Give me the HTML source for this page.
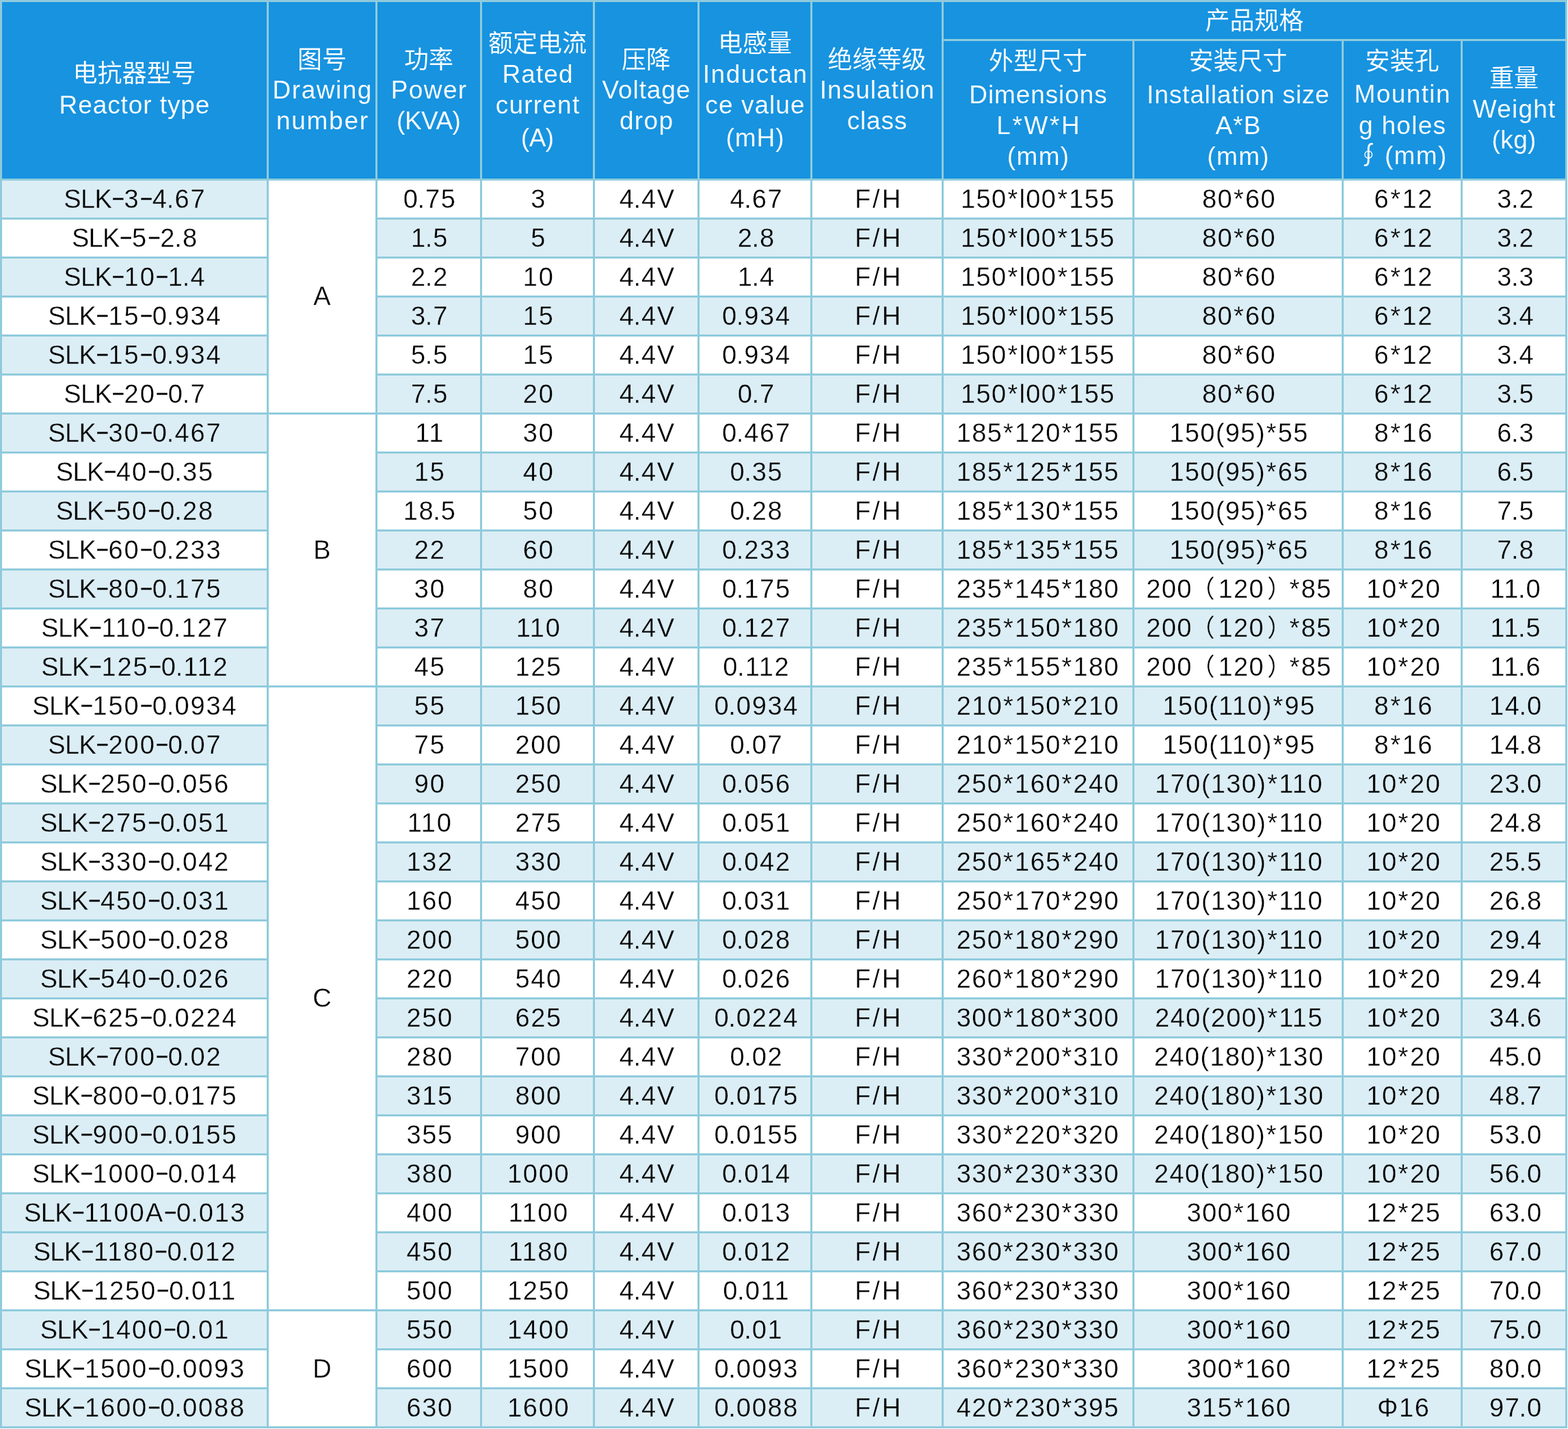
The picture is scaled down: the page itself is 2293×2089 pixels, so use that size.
<!DOCTYPE html>
<html lang="zh"><head><meta charset="utf-8"><title>SLK reactor specification table</title>
<style>
html,body{margin:0;padding:0;background:#fff;}
body{width:2293px;height:2089px;position:relative;overflow:hidden;font-family:"Liberation Sans",sans-serif;font-size:38px;}
#t{position:absolute;left:0;top:0;width:2292px;height:2088px;background:#8fcbdc;will-change:transform;}
.c{position:absolute;text-align:center;white-space:nowrap;overflow:hidden;}
.h{background:#1793e0;color:#fff;font-size:37px;-webkit-text-stroke:0.12px #1793e0;}
.h .l{position:absolute;left:0;right:0;height:45px;line-height:45px;}
.h .l span{position:relative;}
.h .k{position:absolute;left:0;right:0;height:36px;line-height:36px;font-size:36px;letter-spacing:0;font-family:"Liberation Sans","Noto Sans CJK SC",sans-serif;}
.w{background:#fff;-webkit-text-stroke:0.3px #fff;}
.b{background:#dceef5;-webkit-text-stroke:0.3px #dceef5;}
.d{color:#000;height:54px;line-height:54px;}
.d span{position:relative;top:0.3px;}
.g{background:#fff;color:#000;-webkit-text-stroke:0.3px #fff;}
.g span{position:absolute;left:0;right:0;height:54px;line-height:54px;}
.as{font-style:normal;padding:0 0.8px;}
.p{font-style:normal;margin:0 -0.76px 0 -2.1px;}
.s{font-weight:normal;letter-spacing:-0.7px;margin-right:0.4px;}
.m{font-style:normal;font-size:31px;letter-spacing:0;position:relative;top:-3px;-webkit-text-stroke:0.35px #000;}
.fw{font-style:normal;font-size:36px;letter-spacing:0;line-height:0;font-family:"Liberation Sans","Noto Sans CJK SC",sans-serif;}
.ci{font-style:normal;font-size:36px;letter-spacing:0;line-height:0;font-family:"Liberation Sans","Noto Sans CJK SC","DejaVu Sans",sans-serif;}
</style></head>
<body>
<div id="t">
<div class="c h" style="left:3px;top:3px;width:387px;height:258px"><div class="k" style="top:87.3px">电抗器型号</div><div class="l" style="top:128.2px;left:0px;letter-spacing:0.91px"><span style="left:0.46px">Reactor type</span></div></div>
<div class="c h" style="left:393px;top:3px;width:156px;height:258px"><div class="k" style="top:66.5px">图号</div><div class="l" style="top:106.2px;left:0px;letter-spacing:1.52px"><span style="left:0.76px">Drawing</span></div><div class="l" style="top:151.2px;left:0px;letter-spacing:1.72px"><span style="left:0.86px">number</span></div></div>
<div class="c h" style="left:552px;top:3px;width:150px;height:258px"><div class="k" style="top:66.5px">功率</div><div class="l" style="top:106.2px;left:0px;letter-spacing:1.37px"><span style="left:0.69px">Power</span></div><div class="l" style="top:151.2px;left:0px;letter-spacing:-0.52px"><span style="left:-0.26px">(KVA)</span></div></div>
<div class="c h" style="left:705px;top:3px;width:162px;height:258px"><div class="k" style="top:42.5px">额定电流</div><div class="l" style="top:83.1px;left:0px;letter-spacing:1.12px"><span style="left:0.56px">Rated</span></div><div class="l" style="top:128.3px;left:0px;letter-spacing:1.21px"><span style="left:0.60px">current</span></div><div class="l" style="top:175.8px;left:0px;letter-spacing:-0.47px"><span style="left:-0.23px">(A)</span></div></div>
<div class="c h" style="left:870px;top:3px;width:150px;height:258px"><div class="k" style="top:66.5px">压降</div><div class="l" style="top:106.2px;left:0px;letter-spacing:0.89px"><span style="left:0.45px">Voltage</span></div><div class="l" style="top:151.2px;left:0px;letter-spacing:1.35px"><span style="left:0.68px">drop</span></div></div>
<div class="c h" style="left:1023px;top:3px;width:162px;height:258px"><div class="k" style="top:42.5px">电感量</div><div class="l" style="top:83.0px;left:0px;letter-spacing:1.47px"><span style="left:0.73px">Inductan</span></div><div class="l" style="top:128.2px;left:0px;letter-spacing:1.06px"><span style="left:0.53px">ce value</span></div><div class="l" style="top:176.0px;left:0px;letter-spacing:0.93px"><span style="left:0.47px">(mH)</span></div></div>
<div class="c h" style="left:1188px;top:3px;width:189px;height:258px"><div class="k" style="top:66.5px">绝缘等级</div><div class="l" style="top:106.2px;left:0px;letter-spacing:1.00px"><span style="left:0.50px">Insulation</span></div><div class="l" style="top:151.2px;left:0px;letter-spacing:0.85px"><span style="left:0.42px">class</span></div></div>
<div class="c h" style="left:1380px;top:60px;width:276px;height:201px"><div class="k" style="top:12.3px">外型尺寸</div><div class="l" style="top:55.9px;left:0px;letter-spacing:0.90px"><span style="left:0.45px">Dimensions</span></div><div class="l" style="top:100.9px;left:0px;letter-spacing:2.63px"><span style="left:1.31px">L*W*H</span></div><div class="l" style="top:145.8px;left:0px;letter-spacing:1.37px"><span style="left:0.69px">(mm)</span></div></div>
<div class="c h" style="left:1659px;top:60px;width:303px;height:201px"><div class="k" style="top:12.3px">安装尺寸</div><div class="l" style="top:55.9px;left:0px;letter-spacing:0.87px"><span style="left:0.43px">Installation size</span></div><div class="l" style="top:100.9px;left:0px;letter-spacing:1.18px"><span style="left:0.59px">A*B</span></div><div class="l" style="top:145.8px;left:0px;letter-spacing:1.37px"><span style="left:0.69px">(mm)</span></div></div>
<div class="c h" style="left:1965px;top:60px;width:171px;height:201px"><div class="k" style="top:12.2px">安装孔</div><div class="l" style="top:55.4px;left:0px;letter-spacing:1.42px"><span style="left:0.71px">Mountin</span></div><div class="l" style="top:100.5px;left:0px;letter-spacing:1.31px"><span style="left:0.66px">g holes</span></div><div class="l" style="top:145.2px;left:2.5px;letter-spacing:1.37px"><span style="left:0.69px"><i class="ci" style="margin-right:-6px;margin-left:-5px">∮</i> (mm)</span></div></div>
<div class="c h" style="left:2139px;top:60px;width:150px;height:201px"><div class="k" style="top:36.5px">重量</div><div class="l" style="top:77.0px;left:0px;letter-spacing:1.20px"><span style="left:0.60px">Weight</span></div><div class="l" style="top:122.0px;left:0px;letter-spacing:0.39px"><span style="left:0.20px">(kg)</span></div></div>
<div class="c h" style="left:1380px;top:3px;width:909px;height:54px"><div class="k" style="top:10.2px">产品规格</div></div>
<div class="c d b" style="left:3px;top:264px;width:387px;letter-spacing:1.9px"><span style="left:0.95px"><b class="s">SLK</b><i class="m">−</i>3<i class="m">−</i>4<i class="p">.</i>67</span></div><div class="c d w" style="left:552px;top:264px;width:150px;letter-spacing:1.7px"><span style="left:1.65px">0<i class="p">.</i>75</span></div><div class="c d w" style="left:705px;top:264px;width:162px;letter-spacing:1.7px"><span style="left:1.65px">3</span></div><div class="c d w" style="left:870px;top:264px;width:150px;letter-spacing:1.7px"><span style="left:1.85px">4<i class="p">.</i>4V</span></div><div class="c d w" style="left:1023px;top:264px;width:162px;letter-spacing:1.7px"><span style="left:2.35px">4<i class="p">.</i>67</span></div><div class="c d w" style="left:1188px;top:264px;width:189px;letter-spacing:3.0px"><span style="left:2.50px">F/H</span></div><div class="c d w" style="left:1380px;top:264px;width:276px;letter-spacing:1.4px"><span style="left:-0.10px">150<i class="as">*</i>l00<i class="as">*</i>155</span></div><div class="c d w" style="left:1659px;top:264px;width:303px;letter-spacing:1.4px"><span style="left:1.50px">80<i class="as">*</i>60</span></div><div class="c d w" style="left:1965px;top:264px;width:171px;letter-spacing:1.7px"><span style="left:2.35px">6<i class="as">*</i>12</span></div><div class="c d w" style="left:2139px;top:264px;width:150px;letter-spacing:1.7px"><span style="left:2.85px">3<i class="p">.</i>2</span></div>
<div class="c d w" style="left:3px;top:321px;width:387px;letter-spacing:1.9px"><span style="left:0.95px"><b class="s">SLK</b><i class="m">−</i>5<i class="m">−</i>2<i class="p">.</i>8</span></div><div class="c d b" style="left:552px;top:321px;width:150px;letter-spacing:1.7px"><span style="left:1.65px">1<i class="p">.</i>5</span></div><div class="c d b" style="left:705px;top:321px;width:162px;letter-spacing:1.7px"><span style="left:1.65px">5</span></div><div class="c d b" style="left:870px;top:321px;width:150px;letter-spacing:1.7px"><span style="left:1.85px">4<i class="p">.</i>4V</span></div><div class="c d b" style="left:1023px;top:321px;width:162px;letter-spacing:1.7px"><span style="left:2.35px">2<i class="p">.</i>8</span></div><div class="c d b" style="left:1188px;top:321px;width:189px;letter-spacing:3.0px"><span style="left:2.50px">F/H</span></div><div class="c d b" style="left:1380px;top:321px;width:276px;letter-spacing:1.4px"><span style="left:-0.10px">150<i class="as">*</i>l00<i class="as">*</i>155</span></div><div class="c d b" style="left:1659px;top:321px;width:303px;letter-spacing:1.4px"><span style="left:1.50px">80<i class="as">*</i>60</span></div><div class="c d b" style="left:1965px;top:321px;width:171px;letter-spacing:1.7px"><span style="left:2.35px">6<i class="as">*</i>12</span></div><div class="c d b" style="left:2139px;top:321px;width:150px;letter-spacing:1.7px"><span style="left:2.85px">3<i class="p">.</i>2</span></div>
<div class="c d b" style="left:3px;top:378px;width:387px;letter-spacing:1.9px"><span style="left:0.95px"><b class="s">SLK</b><i class="m">−</i>10<i class="m">−</i>1<i class="p">.</i>4</span></div><div class="c d w" style="left:552px;top:378px;width:150px;letter-spacing:1.7px"><span style="left:1.65px">2<i class="p">.</i>2</span></div><div class="c d w" style="left:705px;top:378px;width:162px;letter-spacing:1.7px"><span style="left:1.65px">10</span></div><div class="c d w" style="left:870px;top:378px;width:150px;letter-spacing:1.7px"><span style="left:1.85px">4<i class="p">.</i>4V</span></div><div class="c d w" style="left:1023px;top:378px;width:162px;letter-spacing:1.7px"><span style="left:2.35px">1<i class="p">.</i>4</span></div><div class="c d w" style="left:1188px;top:378px;width:189px;letter-spacing:3.0px"><span style="left:2.50px">F/H</span></div><div class="c d w" style="left:1380px;top:378px;width:276px;letter-spacing:1.4px"><span style="left:-0.10px">150<i class="as">*</i>l00<i class="as">*</i>155</span></div><div class="c d w" style="left:1659px;top:378px;width:303px;letter-spacing:1.4px"><span style="left:1.50px">80<i class="as">*</i>60</span></div><div class="c d w" style="left:1965px;top:378px;width:171px;letter-spacing:1.7px"><span style="left:2.35px">6<i class="as">*</i>12</span></div><div class="c d w" style="left:2139px;top:378px;width:150px;letter-spacing:1.7px"><span style="left:2.85px">3<i class="p">.</i>3</span></div>
<div class="c d w" style="left:3px;top:435px;width:387px;letter-spacing:1.9px"><span style="left:0.95px"><b class="s">SLK</b><i class="m">−</i>15<i class="m">−</i>0<i class="p">.</i>934</span></div><div class="c d b" style="left:552px;top:435px;width:150px;letter-spacing:1.7px"><span style="left:1.65px">3<i class="p">.</i>7</span></div><div class="c d b" style="left:705px;top:435px;width:162px;letter-spacing:1.7px"><span style="left:1.65px">15</span></div><div class="c d b" style="left:870px;top:435px;width:150px;letter-spacing:1.7px"><span style="left:1.85px">4<i class="p">.</i>4V</span></div><div class="c d b" style="left:1023px;top:435px;width:162px;letter-spacing:1.7px"><span style="left:2.35px">0<i class="p">.</i>934</span></div><div class="c d b" style="left:1188px;top:435px;width:189px;letter-spacing:3.0px"><span style="left:2.50px">F/H</span></div><div class="c d b" style="left:1380px;top:435px;width:276px;letter-spacing:1.4px"><span style="left:-0.10px">150<i class="as">*</i>l00<i class="as">*</i>155</span></div><div class="c d b" style="left:1659px;top:435px;width:303px;letter-spacing:1.4px"><span style="left:1.50px">80<i class="as">*</i>60</span></div><div class="c d b" style="left:1965px;top:435px;width:171px;letter-spacing:1.7px"><span style="left:2.35px">6<i class="as">*</i>12</span></div><div class="c d b" style="left:2139px;top:435px;width:150px;letter-spacing:1.7px"><span style="left:2.85px">3<i class="p">.</i>4</span></div>
<div class="c d b" style="left:3px;top:492px;width:387px;letter-spacing:1.9px"><span style="left:0.95px"><b class="s">SLK</b><i class="m">−</i>15<i class="m">−</i>0<i class="p">.</i>934</span></div><div class="c d w" style="left:552px;top:492px;width:150px;letter-spacing:1.7px"><span style="left:1.65px">5<i class="p">.</i>5</span></div><div class="c d w" style="left:705px;top:492px;width:162px;letter-spacing:1.7px"><span style="left:1.65px">15</span></div><div class="c d w" style="left:870px;top:492px;width:150px;letter-spacing:1.7px"><span style="left:1.85px">4<i class="p">.</i>4V</span></div><div class="c d w" style="left:1023px;top:492px;width:162px;letter-spacing:1.7px"><span style="left:2.35px">0<i class="p">.</i>934</span></div><div class="c d w" style="left:1188px;top:492px;width:189px;letter-spacing:3.0px"><span style="left:2.50px">F/H</span></div><div class="c d w" style="left:1380px;top:492px;width:276px;letter-spacing:1.4px"><span style="left:-0.10px">150<i class="as">*</i>l00<i class="as">*</i>155</span></div><div class="c d w" style="left:1659px;top:492px;width:303px;letter-spacing:1.4px"><span style="left:1.50px">80<i class="as">*</i>60</span></div><div class="c d w" style="left:1965px;top:492px;width:171px;letter-spacing:1.7px"><span style="left:2.35px">6<i class="as">*</i>12</span></div><div class="c d w" style="left:2139px;top:492px;width:150px;letter-spacing:1.7px"><span style="left:2.85px">3<i class="p">.</i>4</span></div>
<div class="c d w" style="left:3px;top:549px;width:387px;letter-spacing:1.9px"><span style="left:0.95px"><b class="s">SLK</b><i class="m">−</i>20<i class="m">−</i>0<i class="p">.</i>7</span></div><div class="c d b" style="left:552px;top:549px;width:150px;letter-spacing:1.7px"><span style="left:1.65px">7<i class="p">.</i>5</span></div><div class="c d b" style="left:705px;top:549px;width:162px;letter-spacing:1.7px"><span style="left:1.65px">20</span></div><div class="c d b" style="left:870px;top:549px;width:150px;letter-spacing:1.7px"><span style="left:1.85px">4<i class="p">.</i>4V</span></div><div class="c d b" style="left:1023px;top:549px;width:162px;letter-spacing:1.7px"><span style="left:2.35px">0<i class="p">.</i>7</span></div><div class="c d b" style="left:1188px;top:549px;width:189px;letter-spacing:3.0px"><span style="left:2.50px">F/H</span></div><div class="c d b" style="left:1380px;top:549px;width:276px;letter-spacing:1.4px"><span style="left:-0.10px">150<i class="as">*</i>l00<i class="as">*</i>155</span></div><div class="c d b" style="left:1659px;top:549px;width:303px;letter-spacing:1.4px"><span style="left:1.50px">80<i class="as">*</i>60</span></div><div class="c d b" style="left:1965px;top:549px;width:171px;letter-spacing:1.7px"><span style="left:2.35px">6<i class="as">*</i>12</span></div><div class="c d b" style="left:2139px;top:549px;width:150px;letter-spacing:1.7px"><span style="left:2.85px">3<i class="p">.</i>5</span></div>
<div class="c d b" style="left:3px;top:606px;width:387px;letter-spacing:1.9px"><span style="left:0.95px"><b class="s">SLK</b><i class="m">−</i>30<i class="m">−</i>0<i class="p">.</i>467</span></div><div class="c d w" style="left:552px;top:606px;width:150px;letter-spacing:1.7px"><span style="left:1.65px">11</span></div><div class="c d w" style="left:705px;top:606px;width:162px;letter-spacing:1.7px"><span style="left:1.65px">30</span></div><div class="c d w" style="left:870px;top:606px;width:150px;letter-spacing:1.7px"><span style="left:1.85px">4<i class="p">.</i>4V</span></div><div class="c d w" style="left:1023px;top:606px;width:162px;letter-spacing:1.7px"><span style="left:2.35px">0<i class="p">.</i>467</span></div><div class="c d w" style="left:1188px;top:606px;width:189px;letter-spacing:3.0px"><span style="left:2.50px">F/H</span></div><div class="c d w" style="left:1380px;top:606px;width:276px;letter-spacing:1.4px"><span style="left:-0.10px">185<i class="as">*</i>120<i class="as">*</i>155</span></div><div class="c d w" style="left:1659px;top:606px;width:303px;letter-spacing:1.4px"><span style="left:1.50px">150(95)<i class="as">*</i>55</span></div><div class="c d w" style="left:1965px;top:606px;width:171px;letter-spacing:1.7px"><span style="left:2.35px">8<i class="as">*</i>16</span></div><div class="c d w" style="left:2139px;top:606px;width:150px;letter-spacing:1.7px"><span style="left:2.85px">6<i class="p">.</i>3</span></div>
<div class="c d w" style="left:3px;top:663px;width:387px;letter-spacing:1.9px"><span style="left:0.95px"><b class="s">SLK</b><i class="m">−</i>40<i class="m">−</i>0<i class="p">.</i>35</span></div><div class="c d b" style="left:552px;top:663px;width:150px;letter-spacing:1.7px"><span style="left:1.65px">15</span></div><div class="c d b" style="left:705px;top:663px;width:162px;letter-spacing:1.7px"><span style="left:1.65px">40</span></div><div class="c d b" style="left:870px;top:663px;width:150px;letter-spacing:1.7px"><span style="left:1.85px">4<i class="p">.</i>4V</span></div><div class="c d b" style="left:1023px;top:663px;width:162px;letter-spacing:1.7px"><span style="left:2.35px">0<i class="p">.</i>35</span></div><div class="c d b" style="left:1188px;top:663px;width:189px;letter-spacing:3.0px"><span style="left:2.50px">F/H</span></div><div class="c d b" style="left:1380px;top:663px;width:276px;letter-spacing:1.4px"><span style="left:-0.10px">185<i class="as">*</i>125<i class="as">*</i>155</span></div><div class="c d b" style="left:1659px;top:663px;width:303px;letter-spacing:1.4px"><span style="left:1.50px">150(95)<i class="as">*</i>65</span></div><div class="c d b" style="left:1965px;top:663px;width:171px;letter-spacing:1.7px"><span style="left:2.35px">8<i class="as">*</i>16</span></div><div class="c d b" style="left:2139px;top:663px;width:150px;letter-spacing:1.7px"><span style="left:2.85px">6<i class="p">.</i>5</span></div>
<div class="c d b" style="left:3px;top:720px;width:387px;letter-spacing:1.9px"><span style="left:0.95px"><b class="s">SLK</b><i class="m">−</i>50<i class="m">−</i>0<i class="p">.</i>28</span></div><div class="c d w" style="left:552px;top:720px;width:150px;letter-spacing:1.7px"><span style="left:1.65px">18<i class="p">.</i>5</span></div><div class="c d w" style="left:705px;top:720px;width:162px;letter-spacing:1.7px"><span style="left:1.65px">50</span></div><div class="c d w" style="left:870px;top:720px;width:150px;letter-spacing:1.7px"><span style="left:1.85px">4<i class="p">.</i>4V</span></div><div class="c d w" style="left:1023px;top:720px;width:162px;letter-spacing:1.7px"><span style="left:2.35px">0<i class="p">.</i>28</span></div><div class="c d w" style="left:1188px;top:720px;width:189px;letter-spacing:3.0px"><span style="left:2.50px">F/H</span></div><div class="c d w" style="left:1380px;top:720px;width:276px;letter-spacing:1.4px"><span style="left:-0.10px">185<i class="as">*</i>130<i class="as">*</i>155</span></div><div class="c d w" style="left:1659px;top:720px;width:303px;letter-spacing:1.4px"><span style="left:1.50px">150(95)<i class="as">*</i>65</span></div><div class="c d w" style="left:1965px;top:720px;width:171px;letter-spacing:1.7px"><span style="left:2.35px">8<i class="as">*</i>16</span></div><div class="c d w" style="left:2139px;top:720px;width:150px;letter-spacing:1.7px"><span style="left:2.85px">7<i class="p">.</i>5</span></div>
<div class="c d w" style="left:3px;top:777px;width:387px;letter-spacing:1.9px"><span style="left:0.95px"><b class="s">SLK</b><i class="m">−</i>60<i class="m">−</i>0<i class="p">.</i>233</span></div><div class="c d b" style="left:552px;top:777px;width:150px;letter-spacing:1.7px"><span style="left:1.65px">22</span></div><div class="c d b" style="left:705px;top:777px;width:162px;letter-spacing:1.7px"><span style="left:1.65px">60</span></div><div class="c d b" style="left:870px;top:777px;width:150px;letter-spacing:1.7px"><span style="left:1.85px">4<i class="p">.</i>4V</span></div><div class="c d b" style="left:1023px;top:777px;width:162px;letter-spacing:1.7px"><span style="left:2.35px">0<i class="p">.</i>233</span></div><div class="c d b" style="left:1188px;top:777px;width:189px;letter-spacing:3.0px"><span style="left:2.50px">F/H</span></div><div class="c d b" style="left:1380px;top:777px;width:276px;letter-spacing:1.4px"><span style="left:-0.10px">185<i class="as">*</i>135<i class="as">*</i>155</span></div><div class="c d b" style="left:1659px;top:777px;width:303px;letter-spacing:1.4px"><span style="left:1.50px">150(95)<i class="as">*</i>65</span></div><div class="c d b" style="left:1965px;top:777px;width:171px;letter-spacing:1.7px"><span style="left:2.35px">8<i class="as">*</i>16</span></div><div class="c d b" style="left:2139px;top:777px;width:150px;letter-spacing:1.7px"><span style="left:2.85px">7<i class="p">.</i>8</span></div>
<div class="c d b" style="left:3px;top:834px;width:387px;letter-spacing:1.9px"><span style="left:0.95px"><b class="s">SLK</b><i class="m">−</i>80<i class="m">−</i>0<i class="p">.</i>175</span></div><div class="c d w" style="left:552px;top:834px;width:150px;letter-spacing:1.7px"><span style="left:1.65px">30</span></div><div class="c d w" style="left:705px;top:834px;width:162px;letter-spacing:1.7px"><span style="left:1.65px">80</span></div><div class="c d w" style="left:870px;top:834px;width:150px;letter-spacing:1.7px"><span style="left:1.85px">4<i class="p">.</i>4V</span></div><div class="c d w" style="left:1023px;top:834px;width:162px;letter-spacing:1.7px"><span style="left:2.35px">0<i class="p">.</i>175</span></div><div class="c d w" style="left:1188px;top:834px;width:189px;letter-spacing:3.0px"><span style="left:2.50px">F/H</span></div><div class="c d w" style="left:1380px;top:834px;width:276px;letter-spacing:1.4px"><span style="left:-0.10px">235<i class="as">*</i>145<i class="as">*</i>180</span></div><div class="c d w" style="left:1659px;top:834px;width:303px;letter-spacing:1.4px"><span style="left:1.50px">200<i class="fw" style="margin-left:-3px;margin-right:4.7px">（</i>120<i class="fw" style="margin-left:4px;margin-right:-4.1px">）</i><i class="as">*</i>85</span></div><div class="c d w" style="left:1965px;top:834px;width:171px;letter-spacing:1.7px"><span style="left:2.35px">10<i class="as">*</i>20</span></div><div class="c d w" style="left:2139px;top:834px;width:150px;letter-spacing:1.7px"><span style="left:2.85px">11<i class="p">.</i>0</span></div>
<div class="c d w" style="left:3px;top:891px;width:387px;letter-spacing:1.9px"><span style="left:0.95px"><b class="s">SLK</b><i class="m">−</i>110<i class="m">−</i>0<i class="p">.</i>127</span></div><div class="c d b" style="left:552px;top:891px;width:150px;letter-spacing:1.7px"><span style="left:1.65px">37</span></div><div class="c d b" style="left:705px;top:891px;width:162px;letter-spacing:1.7px"><span style="left:1.65px">110</span></div><div class="c d b" style="left:870px;top:891px;width:150px;letter-spacing:1.7px"><span style="left:1.85px">4<i class="p">.</i>4V</span></div><div class="c d b" style="left:1023px;top:891px;width:162px;letter-spacing:1.7px"><span style="left:2.35px">0<i class="p">.</i>127</span></div><div class="c d b" style="left:1188px;top:891px;width:189px;letter-spacing:3.0px"><span style="left:2.50px">F/H</span></div><div class="c d b" style="left:1380px;top:891px;width:276px;letter-spacing:1.4px"><span style="left:-0.10px">235<i class="as">*</i>150<i class="as">*</i>180</span></div><div class="c d b" style="left:1659px;top:891px;width:303px;letter-spacing:1.4px"><span style="left:1.50px">200<i class="fw" style="margin-left:-3px;margin-right:4.7px">（</i>120<i class="fw" style="margin-left:4px;margin-right:-4.1px">）</i><i class="as">*</i>85</span></div><div class="c d b" style="left:1965px;top:891px;width:171px;letter-spacing:1.7px"><span style="left:2.35px">10<i class="as">*</i>20</span></div><div class="c d b" style="left:2139px;top:891px;width:150px;letter-spacing:1.7px"><span style="left:2.85px">11<i class="p">.</i>5</span></div>
<div class="c d b" style="left:3px;top:948px;width:387px;letter-spacing:1.9px"><span style="left:0.95px"><b class="s">SLK</b><i class="m">−</i>125<i class="m">−</i>0<i class="p">.</i>112</span></div><div class="c d w" style="left:552px;top:948px;width:150px;letter-spacing:1.7px"><span style="left:1.65px">45</span></div><div class="c d w" style="left:705px;top:948px;width:162px;letter-spacing:1.7px"><span style="left:1.65px">125</span></div><div class="c d w" style="left:870px;top:948px;width:150px;letter-spacing:1.7px"><span style="left:1.85px">4<i class="p">.</i>4V</span></div><div class="c d w" style="left:1023px;top:948px;width:162px;letter-spacing:1.7px"><span style="left:2.35px">0<i class="p">.</i>112</span></div><div class="c d w" style="left:1188px;top:948px;width:189px;letter-spacing:3.0px"><span style="left:2.50px">F/H</span></div><div class="c d w" style="left:1380px;top:948px;width:276px;letter-spacing:1.4px"><span style="left:-0.10px">235<i class="as">*</i>155<i class="as">*</i>180</span></div><div class="c d w" style="left:1659px;top:948px;width:303px;letter-spacing:1.4px"><span style="left:1.50px">200<i class="fw" style="margin-left:-3px;margin-right:4.7px">（</i>120<i class="fw" style="margin-left:4px;margin-right:-4.1px">）</i><i class="as">*</i>85</span></div><div class="c d w" style="left:1965px;top:948px;width:171px;letter-spacing:1.7px"><span style="left:2.35px">10<i class="as">*</i>20</span></div><div class="c d w" style="left:2139px;top:948px;width:150px;letter-spacing:1.7px"><span style="left:2.85px">11<i class="p">.</i>6</span></div>
<div class="c d w" style="left:3px;top:1005px;width:387px;letter-spacing:1.9px"><span style="left:0.95px"><b class="s">SLK</b><i class="m">−</i>150<i class="m">−</i>0<i class="p">.</i>0934</span></div><div class="c d b" style="left:552px;top:1005px;width:150px;letter-spacing:1.7px"><span style="left:1.65px">55</span></div><div class="c d b" style="left:705px;top:1005px;width:162px;letter-spacing:1.7px"><span style="left:1.65px">150</span></div><div class="c d b" style="left:870px;top:1005px;width:150px;letter-spacing:1.7px"><span style="left:1.85px">4<i class="p">.</i>4V</span></div><div class="c d b" style="left:1023px;top:1005px;width:162px;letter-spacing:1.7px"><span style="left:2.35px">0<i class="p">.</i>0934</span></div><div class="c d b" style="left:1188px;top:1005px;width:189px;letter-spacing:3.0px"><span style="left:2.50px">F/H</span></div><div class="c d b" style="left:1380px;top:1005px;width:276px;letter-spacing:1.4px"><span style="left:-0.10px">210<i class="as">*</i>150<i class="as">*</i>210</span></div><div class="c d b" style="left:1659px;top:1005px;width:303px;letter-spacing:1.4px"><span style="left:1.50px">150(110)<i class="as">*</i>95</span></div><div class="c d b" style="left:1965px;top:1005px;width:171px;letter-spacing:1.7px"><span style="left:2.35px">8<i class="as">*</i>16</span></div><div class="c d b" style="left:2139px;top:1005px;width:150px;letter-spacing:1.7px"><span style="left:2.85px">14<i class="p">.</i>0</span></div>
<div class="c d b" style="left:3px;top:1062px;width:387px;letter-spacing:1.9px"><span style="left:0.95px"><b class="s">SLK</b><i class="m">−</i>200<i class="m">−</i>0<i class="p">.</i>07</span></div><div class="c d w" style="left:552px;top:1062px;width:150px;letter-spacing:1.7px"><span style="left:1.65px">75</span></div><div class="c d w" style="left:705px;top:1062px;width:162px;letter-spacing:1.7px"><span style="left:1.65px">200</span></div><div class="c d w" style="left:870px;top:1062px;width:150px;letter-spacing:1.7px"><span style="left:1.85px">4<i class="p">.</i>4V</span></div><div class="c d w" style="left:1023px;top:1062px;width:162px;letter-spacing:1.7px"><span style="left:2.35px">0<i class="p">.</i>07</span></div><div class="c d w" style="left:1188px;top:1062px;width:189px;letter-spacing:3.0px"><span style="left:2.50px">F/H</span></div><div class="c d w" style="left:1380px;top:1062px;width:276px;letter-spacing:1.4px"><span style="left:-0.10px">210<i class="as">*</i>150<i class="as">*</i>210</span></div><div class="c d w" style="left:1659px;top:1062px;width:303px;letter-spacing:1.4px"><span style="left:1.50px">150(110)<i class="as">*</i>95</span></div><div class="c d w" style="left:1965px;top:1062px;width:171px;letter-spacing:1.7px"><span style="left:2.35px">8<i class="as">*</i>16</span></div><div class="c d w" style="left:2139px;top:1062px;width:150px;letter-spacing:1.7px"><span style="left:2.85px">14<i class="p">.</i>8</span></div>
<div class="c d w" style="left:3px;top:1119px;width:387px;letter-spacing:1.9px"><span style="left:0.95px"><b class="s">SLK</b><i class="m">−</i>250<i class="m">−</i>0<i class="p">.</i>056</span></div><div class="c d b" style="left:552px;top:1119px;width:150px;letter-spacing:1.7px"><span style="left:1.65px">90</span></div><div class="c d b" style="left:705px;top:1119px;width:162px;letter-spacing:1.7px"><span style="left:1.65px">250</span></div><div class="c d b" style="left:870px;top:1119px;width:150px;letter-spacing:1.7px"><span style="left:1.85px">4<i class="p">.</i>4V</span></div><div class="c d b" style="left:1023px;top:1119px;width:162px;letter-spacing:1.7px"><span style="left:2.35px">0<i class="p">.</i>056</span></div><div class="c d b" style="left:1188px;top:1119px;width:189px;letter-spacing:3.0px"><span style="left:2.50px">F/H</span></div><div class="c d b" style="left:1380px;top:1119px;width:276px;letter-spacing:1.4px"><span style="left:-0.10px">250<i class="as">*</i>160<i class="as">*</i>240</span></div><div class="c d b" style="left:1659px;top:1119px;width:303px;letter-spacing:1.4px"><span style="left:1.50px">170(130)<i class="as">*</i>110</span></div><div class="c d b" style="left:1965px;top:1119px;width:171px;letter-spacing:1.7px"><span style="left:2.35px">10<i class="as">*</i>20</span></div><div class="c d b" style="left:2139px;top:1119px;width:150px;letter-spacing:1.7px"><span style="left:2.85px">23<i class="p">.</i>0</span></div>
<div class="c d b" style="left:3px;top:1176px;width:387px;letter-spacing:1.9px"><span style="left:0.95px"><b class="s">SLK</b><i class="m">−</i>275<i class="m">−</i>0<i class="p">.</i>051</span></div><div class="c d w" style="left:552px;top:1176px;width:150px;letter-spacing:1.7px"><span style="left:1.65px">110</span></div><div class="c d w" style="left:705px;top:1176px;width:162px;letter-spacing:1.7px"><span style="left:1.65px">275</span></div><div class="c d w" style="left:870px;top:1176px;width:150px;letter-spacing:1.7px"><span style="left:1.85px">4<i class="p">.</i>4V</span></div><div class="c d w" style="left:1023px;top:1176px;width:162px;letter-spacing:1.7px"><span style="left:2.35px">0<i class="p">.</i>051</span></div><div class="c d w" style="left:1188px;top:1176px;width:189px;letter-spacing:3.0px"><span style="left:2.50px">F/H</span></div><div class="c d w" style="left:1380px;top:1176px;width:276px;letter-spacing:1.4px"><span style="left:-0.10px">250<i class="as">*</i>160<i class="as">*</i>240</span></div><div class="c d w" style="left:1659px;top:1176px;width:303px;letter-spacing:1.4px"><span style="left:1.50px">170(130)<i class="as">*</i>110</span></div><div class="c d w" style="left:1965px;top:1176px;width:171px;letter-spacing:1.7px"><span style="left:2.35px">10<i class="as">*</i>20</span></div><div class="c d w" style="left:2139px;top:1176px;width:150px;letter-spacing:1.7px"><span style="left:2.85px">24<i class="p">.</i>8</span></div>
<div class="c d w" style="left:3px;top:1233px;width:387px;letter-spacing:1.9px"><span style="left:0.95px"><b class="s">SLK</b><i class="m">−</i>330<i class="m">−</i>0<i class="p">.</i>042</span></div><div class="c d b" style="left:552px;top:1233px;width:150px;letter-spacing:1.7px"><span style="left:1.65px">132</span></div><div class="c d b" style="left:705px;top:1233px;width:162px;letter-spacing:1.7px"><span style="left:1.65px">330</span></div><div class="c d b" style="left:870px;top:1233px;width:150px;letter-spacing:1.7px"><span style="left:1.85px">4<i class="p">.</i>4V</span></div><div class="c d b" style="left:1023px;top:1233px;width:162px;letter-spacing:1.7px"><span style="left:2.35px">0<i class="p">.</i>042</span></div><div class="c d b" style="left:1188px;top:1233px;width:189px;letter-spacing:3.0px"><span style="left:2.50px">F/H</span></div><div class="c d b" style="left:1380px;top:1233px;width:276px;letter-spacing:1.4px"><span style="left:-0.10px">250<i class="as">*</i>165<i class="as">*</i>240</span></div><div class="c d b" style="left:1659px;top:1233px;width:303px;letter-spacing:1.4px"><span style="left:1.50px">170(130)<i class="as">*</i>110</span></div><div class="c d b" style="left:1965px;top:1233px;width:171px;letter-spacing:1.7px"><span style="left:2.35px">10<i class="as">*</i>20</span></div><div class="c d b" style="left:2139px;top:1233px;width:150px;letter-spacing:1.7px"><span style="left:2.85px">25<i class="p">.</i>5</span></div>
<div class="c d b" style="left:3px;top:1290px;width:387px;letter-spacing:1.9px"><span style="left:0.95px"><b class="s">SLK</b><i class="m">−</i>450<i class="m">−</i>0<i class="p">.</i>031</span></div><div class="c d w" style="left:552px;top:1290px;width:150px;letter-spacing:1.7px"><span style="left:1.65px">160</span></div><div class="c d w" style="left:705px;top:1290px;width:162px;letter-spacing:1.7px"><span style="left:1.65px">450</span></div><div class="c d w" style="left:870px;top:1290px;width:150px;letter-spacing:1.7px"><span style="left:1.85px">4<i class="p">.</i>4V</span></div><div class="c d w" style="left:1023px;top:1290px;width:162px;letter-spacing:1.7px"><span style="left:2.35px">0<i class="p">.</i>031</span></div><div class="c d w" style="left:1188px;top:1290px;width:189px;letter-spacing:3.0px"><span style="left:2.50px">F/H</span></div><div class="c d w" style="left:1380px;top:1290px;width:276px;letter-spacing:1.4px"><span style="left:-0.10px">250<i class="as">*</i>170<i class="as">*</i>290</span></div><div class="c d w" style="left:1659px;top:1290px;width:303px;letter-spacing:1.4px"><span style="left:1.50px">170(130)<i class="as">*</i>110</span></div><div class="c d w" style="left:1965px;top:1290px;width:171px;letter-spacing:1.7px"><span style="left:2.35px">10<i class="as">*</i>20</span></div><div class="c d w" style="left:2139px;top:1290px;width:150px;letter-spacing:1.7px"><span style="left:2.85px">26<i class="p">.</i>8</span></div>
<div class="c d w" style="left:3px;top:1347px;width:387px;letter-spacing:1.9px"><span style="left:0.95px"><b class="s">SLK</b><i class="m">−</i>500<i class="m">−</i>0<i class="p">.</i>028</span></div><div class="c d b" style="left:552px;top:1347px;width:150px;letter-spacing:1.7px"><span style="left:1.65px">200</span></div><div class="c d b" style="left:705px;top:1347px;width:162px;letter-spacing:1.7px"><span style="left:1.65px">500</span></div><div class="c d b" style="left:870px;top:1347px;width:150px;letter-spacing:1.7px"><span style="left:1.85px">4<i class="p">.</i>4V</span></div><div class="c d b" style="left:1023px;top:1347px;width:162px;letter-spacing:1.7px"><span style="left:2.35px">0<i class="p">.</i>028</span></div><div class="c d b" style="left:1188px;top:1347px;width:189px;letter-spacing:3.0px"><span style="left:2.50px">F/H</span></div><div class="c d b" style="left:1380px;top:1347px;width:276px;letter-spacing:1.4px"><span style="left:-0.10px">250<i class="as">*</i>180<i class="as">*</i>290</span></div><div class="c d b" style="left:1659px;top:1347px;width:303px;letter-spacing:1.4px"><span style="left:1.50px">170(130)<i class="as">*</i>110</span></div><div class="c d b" style="left:1965px;top:1347px;width:171px;letter-spacing:1.7px"><span style="left:2.35px">10<i class="as">*</i>20</span></div><div class="c d b" style="left:2139px;top:1347px;width:150px;letter-spacing:1.7px"><span style="left:2.85px">29<i class="p">.</i>4</span></div>
<div class="c d b" style="left:3px;top:1404px;width:387px;letter-spacing:1.9px"><span style="left:0.95px"><b class="s">SLK</b><i class="m">−</i>540<i class="m">−</i>0<i class="p">.</i>026</span></div><div class="c d w" style="left:552px;top:1404px;width:150px;letter-spacing:1.7px"><span style="left:1.65px">220</span></div><div class="c d w" style="left:705px;top:1404px;width:162px;letter-spacing:1.7px"><span style="left:1.65px">540</span></div><div class="c d w" style="left:870px;top:1404px;width:150px;letter-spacing:1.7px"><span style="left:1.85px">4<i class="p">.</i>4V</span></div><div class="c d w" style="left:1023px;top:1404px;width:162px;letter-spacing:1.7px"><span style="left:2.35px">0<i class="p">.</i>026</span></div><div class="c d w" style="left:1188px;top:1404px;width:189px;letter-spacing:3.0px"><span style="left:2.50px">F/H</span></div><div class="c d w" style="left:1380px;top:1404px;width:276px;letter-spacing:1.4px"><span style="left:-0.10px">260<i class="as">*</i>180<i class="as">*</i>290</span></div><div class="c d w" style="left:1659px;top:1404px;width:303px;letter-spacing:1.4px"><span style="left:1.50px">170(130)<i class="as">*</i>110</span></div><div class="c d w" style="left:1965px;top:1404px;width:171px;letter-spacing:1.7px"><span style="left:2.35px">10<i class="as">*</i>20</span></div><div class="c d w" style="left:2139px;top:1404px;width:150px;letter-spacing:1.7px"><span style="left:2.85px">29<i class="p">.</i>4</span></div>
<div class="c d w" style="left:3px;top:1461px;width:387px;letter-spacing:1.9px"><span style="left:0.95px"><b class="s">SLK</b><i class="m">−</i>625<i class="m">−</i>0<i class="p">.</i>0224</span></div><div class="c d b" style="left:552px;top:1461px;width:150px;letter-spacing:1.7px"><span style="left:1.65px">250</span></div><div class="c d b" style="left:705px;top:1461px;width:162px;letter-spacing:1.7px"><span style="left:1.65px">625</span></div><div class="c d b" style="left:870px;top:1461px;width:150px;letter-spacing:1.7px"><span style="left:1.85px">4<i class="p">.</i>4V</span></div><div class="c d b" style="left:1023px;top:1461px;width:162px;letter-spacing:1.7px"><span style="left:2.35px">0<i class="p">.</i>0224</span></div><div class="c d b" style="left:1188px;top:1461px;width:189px;letter-spacing:3.0px"><span style="left:2.50px">F/H</span></div><div class="c d b" style="left:1380px;top:1461px;width:276px;letter-spacing:1.4px"><span style="left:-0.10px">300<i class="as">*</i>180<i class="as">*</i>300</span></div><div class="c d b" style="left:1659px;top:1461px;width:303px;letter-spacing:1.4px"><span style="left:1.50px">240(200)<i class="as">*</i>115</span></div><div class="c d b" style="left:1965px;top:1461px;width:171px;letter-spacing:1.7px"><span style="left:2.35px">10<i class="as">*</i>20</span></div><div class="c d b" style="left:2139px;top:1461px;width:150px;letter-spacing:1.7px"><span style="left:2.85px">34<i class="p">.</i>6</span></div>
<div class="c d b" style="left:3px;top:1518px;width:387px;letter-spacing:1.9px"><span style="left:0.95px"><b class="s">SLK</b><i class="m">−</i>700<i class="m">−</i>0<i class="p">.</i>02</span></div><div class="c d w" style="left:552px;top:1518px;width:150px;letter-spacing:1.7px"><span style="left:1.65px">280</span></div><div class="c d w" style="left:705px;top:1518px;width:162px;letter-spacing:1.7px"><span style="left:1.65px">700</span></div><div class="c d w" style="left:870px;top:1518px;width:150px;letter-spacing:1.7px"><span style="left:1.85px">4<i class="p">.</i>4V</span></div><div class="c d w" style="left:1023px;top:1518px;width:162px;letter-spacing:1.7px"><span style="left:2.35px">0<i class="p">.</i>02</span></div><div class="c d w" style="left:1188px;top:1518px;width:189px;letter-spacing:3.0px"><span style="left:2.50px">F/H</span></div><div class="c d w" style="left:1380px;top:1518px;width:276px;letter-spacing:1.4px"><span style="left:-0.10px">330<i class="as">*</i>200<i class="as">*</i>310</span></div><div class="c d w" style="left:1659px;top:1518px;width:303px;letter-spacing:1.4px"><span style="left:1.50px">240(180)<i class="as">*</i>130</span></div><div class="c d w" style="left:1965px;top:1518px;width:171px;letter-spacing:1.7px"><span style="left:2.35px">10<i class="as">*</i>20</span></div><div class="c d w" style="left:2139px;top:1518px;width:150px;letter-spacing:1.7px"><span style="left:2.85px">45<i class="p">.</i>0</span></div>
<div class="c d w" style="left:3px;top:1575px;width:387px;letter-spacing:1.9px"><span style="left:0.95px"><b class="s">SLK</b><i class="m">−</i>800<i class="m">−</i>0<i class="p">.</i>0175</span></div><div class="c d b" style="left:552px;top:1575px;width:150px;letter-spacing:1.7px"><span style="left:1.65px">315</span></div><div class="c d b" style="left:705px;top:1575px;width:162px;letter-spacing:1.7px"><span style="left:1.65px">800</span></div><div class="c d b" style="left:870px;top:1575px;width:150px;letter-spacing:1.7px"><span style="left:1.85px">4<i class="p">.</i>4V</span></div><div class="c d b" style="left:1023px;top:1575px;width:162px;letter-spacing:1.7px"><span style="left:2.35px">0<i class="p">.</i>0175</span></div><div class="c d b" style="left:1188px;top:1575px;width:189px;letter-spacing:3.0px"><span style="left:2.50px">F/H</span></div><div class="c d b" style="left:1380px;top:1575px;width:276px;letter-spacing:1.4px"><span style="left:-0.10px">330<i class="as">*</i>200<i class="as">*</i>310</span></div><div class="c d b" style="left:1659px;top:1575px;width:303px;letter-spacing:1.4px"><span style="left:1.50px">240(180)<i class="as">*</i>130</span></div><div class="c d b" style="left:1965px;top:1575px;width:171px;letter-spacing:1.7px"><span style="left:2.35px">10<i class="as">*</i>20</span></div><div class="c d b" style="left:2139px;top:1575px;width:150px;letter-spacing:1.7px"><span style="left:2.85px">48<i class="p">.</i>7</span></div>
<div class="c d b" style="left:3px;top:1632px;width:387px;letter-spacing:1.9px"><span style="left:0.95px"><b class="s">SLK</b><i class="m">−</i>900<i class="m">−</i>0<i class="p">.</i>0155</span></div><div class="c d w" style="left:552px;top:1632px;width:150px;letter-spacing:1.7px"><span style="left:1.65px">355</span></div><div class="c d w" style="left:705px;top:1632px;width:162px;letter-spacing:1.7px"><span style="left:1.65px">900</span></div><div class="c d w" style="left:870px;top:1632px;width:150px;letter-spacing:1.7px"><span style="left:1.85px">4<i class="p">.</i>4V</span></div><div class="c d w" style="left:1023px;top:1632px;width:162px;letter-spacing:1.7px"><span style="left:2.35px">0<i class="p">.</i>0155</span></div><div class="c d w" style="left:1188px;top:1632px;width:189px;letter-spacing:3.0px"><span style="left:2.50px">F/H</span></div><div class="c d w" style="left:1380px;top:1632px;width:276px;letter-spacing:1.4px"><span style="left:-0.10px">330<i class="as">*</i>220<i class="as">*</i>320</span></div><div class="c d w" style="left:1659px;top:1632px;width:303px;letter-spacing:1.4px"><span style="left:1.50px">240(180)<i class="as">*</i>150</span></div><div class="c d w" style="left:1965px;top:1632px;width:171px;letter-spacing:1.7px"><span style="left:2.35px">10<i class="as">*</i>20</span></div><div class="c d w" style="left:2139px;top:1632px;width:150px;letter-spacing:1.7px"><span style="left:2.85px">53<i class="p">.</i>0</span></div>
<div class="c d w" style="left:3px;top:1689px;width:387px;letter-spacing:1.9px"><span style="left:0.95px"><b class="s">SLK</b><i class="m">−</i>1000<i class="m">−</i>0<i class="p">.</i>014</span></div><div class="c d b" style="left:552px;top:1689px;width:150px;letter-spacing:1.7px"><span style="left:1.65px">380</span></div><div class="c d b" style="left:705px;top:1689px;width:162px;letter-spacing:1.7px"><span style="left:1.65px">1000</span></div><div class="c d b" style="left:870px;top:1689px;width:150px;letter-spacing:1.7px"><span style="left:1.85px">4<i class="p">.</i>4V</span></div><div class="c d b" style="left:1023px;top:1689px;width:162px;letter-spacing:1.7px"><span style="left:2.35px">0<i class="p">.</i>014</span></div><div class="c d b" style="left:1188px;top:1689px;width:189px;letter-spacing:3.0px"><span style="left:2.50px">F/H</span></div><div class="c d b" style="left:1380px;top:1689px;width:276px;letter-spacing:1.4px"><span style="left:-0.10px">330<i class="as">*</i>230<i class="as">*</i>330</span></div><div class="c d b" style="left:1659px;top:1689px;width:303px;letter-spacing:1.4px"><span style="left:1.50px">240(180)<i class="as">*</i>150</span></div><div class="c d b" style="left:1965px;top:1689px;width:171px;letter-spacing:1.7px"><span style="left:2.35px">10<i class="as">*</i>20</span></div><div class="c d b" style="left:2139px;top:1689px;width:150px;letter-spacing:1.7px"><span style="left:2.85px">56<i class="p">.</i>0</span></div>
<div class="c d b" style="left:3px;top:1746px;width:387px;letter-spacing:1.9px"><span style="left:0.95px"><b class="s">SLK</b><i class="m">−</i>1100A<i class="m">−</i>0<i class="p">.</i>013</span></div><div class="c d w" style="left:552px;top:1746px;width:150px;letter-spacing:1.7px"><span style="left:1.65px">400</span></div><div class="c d w" style="left:705px;top:1746px;width:162px;letter-spacing:1.7px"><span style="left:1.65px">1100</span></div><div class="c d w" style="left:870px;top:1746px;width:150px;letter-spacing:1.7px"><span style="left:1.85px">4<i class="p">.</i>4V</span></div><div class="c d w" style="left:1023px;top:1746px;width:162px;letter-spacing:1.7px"><span style="left:2.35px">0<i class="p">.</i>013</span></div><div class="c d w" style="left:1188px;top:1746px;width:189px;letter-spacing:3.0px"><span style="left:2.50px">F/H</span></div><div class="c d w" style="left:1380px;top:1746px;width:276px;letter-spacing:1.4px"><span style="left:-0.10px">360<i class="as">*</i>230<i class="as">*</i>330</span></div><div class="c d w" style="left:1659px;top:1746px;width:303px;letter-spacing:1.4px"><span style="left:1.50px">300<i class="as">*</i>160</span></div><div class="c d w" style="left:1965px;top:1746px;width:171px;letter-spacing:1.7px"><span style="left:2.35px">12<i class="as">*</i>25</span></div><div class="c d w" style="left:2139px;top:1746px;width:150px;letter-spacing:1.7px"><span style="left:2.85px">63<i class="p">.</i>0</span></div>
<div class="c d b" style="left:3px;top:1803px;width:387px;letter-spacing:1.9px"><span style="left:0.95px"><b class="s">SLK</b><i class="m">−</i>1180<i class="m">−</i>0<i class="p">.</i>012</span></div><div class="c d b" style="left:552px;top:1803px;width:150px;letter-spacing:1.7px"><span style="left:1.65px">450</span></div><div class="c d b" style="left:705px;top:1803px;width:162px;letter-spacing:1.7px"><span style="left:1.65px">1180</span></div><div class="c d b" style="left:870px;top:1803px;width:150px;letter-spacing:1.7px"><span style="left:1.85px">4<i class="p">.</i>4V</span></div><div class="c d b" style="left:1023px;top:1803px;width:162px;letter-spacing:1.7px"><span style="left:2.35px">0<i class="p">.</i>012</span></div><div class="c d b" style="left:1188px;top:1803px;width:189px;letter-spacing:3.0px"><span style="left:2.50px">F/H</span></div><div class="c d b" style="left:1380px;top:1803px;width:276px;letter-spacing:1.4px"><span style="left:-0.10px">360<i class="as">*</i>230<i class="as">*</i>330</span></div><div class="c d b" style="left:1659px;top:1803px;width:303px;letter-spacing:1.4px"><span style="left:1.50px">300<i class="as">*</i>160</span></div><div class="c d b" style="left:1965px;top:1803px;width:171px;letter-spacing:1.7px"><span style="left:2.35px">12<i class="as">*</i>25</span></div><div class="c d b" style="left:2139px;top:1803px;width:150px;letter-spacing:1.7px"><span style="left:2.85px">67<i class="p">.</i>0</span></div>
<div class="c d w" style="left:3px;top:1860px;width:387px;letter-spacing:1.9px"><span style="left:0.95px"><b class="s">SLK</b><i class="m">−</i>1250<i class="m">−</i>0<i class="p">.</i>011</span></div><div class="c d w" style="left:552px;top:1860px;width:150px;letter-spacing:1.7px"><span style="left:1.65px">500</span></div><div class="c d w" style="left:705px;top:1860px;width:162px;letter-spacing:1.7px"><span style="left:1.65px">1250</span></div><div class="c d w" style="left:870px;top:1860px;width:150px;letter-spacing:1.7px"><span style="left:1.85px">4<i class="p">.</i>4V</span></div><div class="c d w" style="left:1023px;top:1860px;width:162px;letter-spacing:1.7px"><span style="left:2.35px">0<i class="p">.</i>011</span></div><div class="c d w" style="left:1188px;top:1860px;width:189px;letter-spacing:3.0px"><span style="left:2.50px">F/H</span></div><div class="c d w" style="left:1380px;top:1860px;width:276px;letter-spacing:1.4px"><span style="left:-0.10px">360<i class="as">*</i>230<i class="as">*</i>330</span></div><div class="c d w" style="left:1659px;top:1860px;width:303px;letter-spacing:1.4px"><span style="left:1.50px">300<i class="as">*</i>160</span></div><div class="c d w" style="left:1965px;top:1860px;width:171px;letter-spacing:1.7px"><span style="left:2.35px">12<i class="as">*</i>25</span></div><div class="c d w" style="left:2139px;top:1860px;width:150px;letter-spacing:1.7px"><span style="left:2.85px">70<i class="p">.</i>0</span></div>
<div class="c d b" style="left:3px;top:1917px;width:387px;letter-spacing:1.9px"><span style="left:0.95px"><b class="s">SLK</b><i class="m">−</i>1400<i class="m">−</i>0<i class="p">.</i>01</span></div><div class="c d b" style="left:552px;top:1917px;width:150px;letter-spacing:1.7px"><span style="left:1.65px">550</span></div><div class="c d b" style="left:705px;top:1917px;width:162px;letter-spacing:1.7px"><span style="left:1.65px">1400</span></div><div class="c d b" style="left:870px;top:1917px;width:150px;letter-spacing:1.7px"><span style="left:1.85px">4<i class="p">.</i>4V</span></div><div class="c d b" style="left:1023px;top:1917px;width:162px;letter-spacing:1.7px"><span style="left:2.35px">0<i class="p">.</i>01</span></div><div class="c d b" style="left:1188px;top:1917px;width:189px;letter-spacing:3.0px"><span style="left:2.50px">F/H</span></div><div class="c d b" style="left:1380px;top:1917px;width:276px;letter-spacing:1.4px"><span style="left:-0.10px">360<i class="as">*</i>230<i class="as">*</i>330</span></div><div class="c d b" style="left:1659px;top:1917px;width:303px;letter-spacing:1.4px"><span style="left:1.50px">300<i class="as">*</i>160</span></div><div class="c d b" style="left:1965px;top:1917px;width:171px;letter-spacing:1.7px"><span style="left:2.35px">12<i class="as">*</i>25</span></div><div class="c d b" style="left:2139px;top:1917px;width:150px;letter-spacing:1.7px"><span style="left:2.85px">75<i class="p">.</i>0</span></div>
<div class="c d w" style="left:3px;top:1974px;width:387px;letter-spacing:1.9px"><span style="left:0.95px"><b class="s">SLK</b><i class="m">−</i>1500<i class="m">−</i>0<i class="p">.</i>0093</span></div><div class="c d w" style="left:552px;top:1974px;width:150px;letter-spacing:1.7px"><span style="left:1.65px">600</span></div><div class="c d w" style="left:705px;top:1974px;width:162px;letter-spacing:1.7px"><span style="left:1.65px">1500</span></div><div class="c d w" style="left:870px;top:1974px;width:150px;letter-spacing:1.7px"><span style="left:1.85px">4<i class="p">.</i>4V</span></div><div class="c d w" style="left:1023px;top:1974px;width:162px;letter-spacing:1.7px"><span style="left:2.35px">0<i class="p">.</i>0093</span></div><div class="c d w" style="left:1188px;top:1974px;width:189px;letter-spacing:3.0px"><span style="left:2.50px">F/H</span></div><div class="c d w" style="left:1380px;top:1974px;width:276px;letter-spacing:1.4px"><span style="left:-0.10px">360<i class="as">*</i>230<i class="as">*</i>330</span></div><div class="c d w" style="left:1659px;top:1974px;width:303px;letter-spacing:1.4px"><span style="left:1.50px">300<i class="as">*</i>160</span></div><div class="c d w" style="left:1965px;top:1974px;width:171px;letter-spacing:1.7px"><span style="left:2.35px">12<i class="as">*</i>25</span></div><div class="c d w" style="left:2139px;top:1974px;width:150px;letter-spacing:1.7px"><span style="left:2.85px">80<i class="p">.</i>0</span></div>
<div class="c d b" style="left:3px;top:2031px;width:387px;letter-spacing:1.9px"><span style="left:0.95px"><b class="s">SLK</b><i class="m">−</i>1600<i class="m">−</i>0<i class="p">.</i>0088</span></div><div class="c d b" style="left:552px;top:2031px;width:150px;letter-spacing:1.7px"><span style="left:1.65px">630</span></div><div class="c d b" style="left:705px;top:2031px;width:162px;letter-spacing:1.7px"><span style="left:1.65px">1600</span></div><div class="c d b" style="left:870px;top:2031px;width:150px;letter-spacing:1.7px"><span style="left:1.85px">4<i class="p">.</i>4V</span></div><div class="c d b" style="left:1023px;top:2031px;width:162px;letter-spacing:1.7px"><span style="left:2.35px">0<i class="p">.</i>0088</span></div><div class="c d b" style="left:1188px;top:2031px;width:189px;letter-spacing:3.0px"><span style="left:2.50px">F/H</span></div><div class="c d b" style="left:1380px;top:2031px;width:276px;letter-spacing:1.4px"><span style="left:-0.10px">420<i class="as">*</i>230<i class="as">*</i>395</span></div><div class="c d b" style="left:1659px;top:2031px;width:303px;letter-spacing:1.4px"><span style="left:1.50px">315<i class="as">*</i>160</span></div><div class="c d b" style="left:1965px;top:2031px;width:171px;letter-spacing:1.7px"><span style="left:2.35px">Φ16</span></div><div class="c d b" style="left:2139px;top:2031px;width:150px;letter-spacing:1.7px"><span style="left:2.85px">97<i class="p">.</i>0</span></div>
<div class="c g" style="left:393px;top:264px;width:156px;height:339px"><span style="top:142.0px">A</span></div>
<div class="c g" style="left:393px;top:606px;width:156px;height:396px"><span style="top:170.5px">B</span></div>
<div class="c g" style="left:393px;top:1005px;width:156px;height:909px"><span style="top:427.0px">C</span></div>
<div class="c g" style="left:393px;top:1917px;width:156px;height:168px"><span style="top:56.5px">D</span></div>
</div>
</body></html>
